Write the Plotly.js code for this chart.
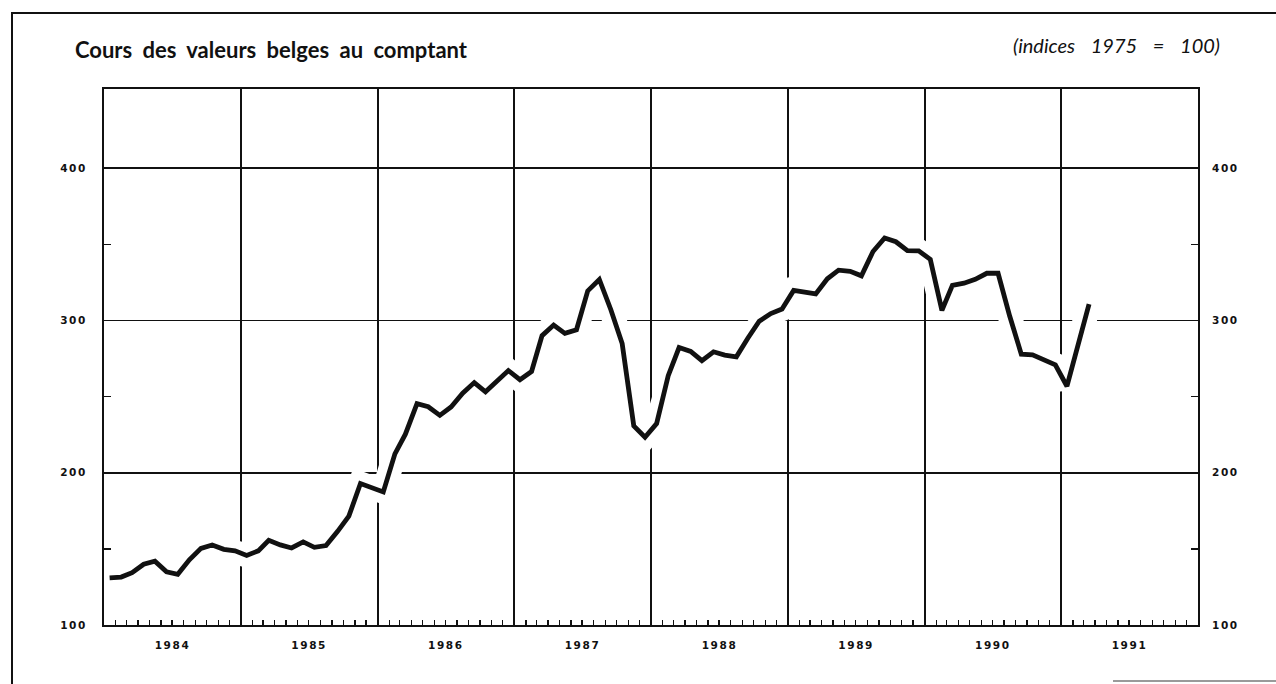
<!DOCTYPE html>
<html>
<head>
<meta charset="utf-8">
<script src="https://cdn.plot.ly/plotly-3.0.1.min.js"></script>
<style>
html,body{margin:0;padding:0;background:#fff;}
#wrap{position:relative;width:1276px;height:684px;overflow:hidden;background:#fff;}
#chart{position:absolute;left:0;top:0;width:1276px;height:684px;}
.frame{position:absolute;pointer-events:none;}
#frameL{left:11px;top:12px;width:2px;height:672px;background:#111;}
#frameT{left:11px;top:12px;width:1265px;height:2px;background:#111;}
#frameB{left:1113px;top:680px;width:163px;height:2px;background:#9a9a9a;}
.x2tick text,.ytick text,.y2tick text{letter-spacing:1.6px;}
.gtitle{word-spacing:5px;}
.annotation-text{word-spacing:11px;}
</style>
</head>
<body>
<div id="wrap">
  <div id="chart"></div>
  <div id="frameL" class="frame"></div>
  <div id="frameT" class="frame"></div>
  <div id="frameB" class="frame"></div>
</div>
<script>
// ---- data ----
const startYear = 1984;
const yearLabels = ['1984', '1985', '1986', '1987', '1988', '1989', '1990', '1991'];
const yTickValues = [100, 200, 300, 400];
const yMinorValues = [150, 250, 350];
// monthly index of Belgian share prices (1975 = 100), Jan 1984 – Mar 1991
const indexValues = [
  131, 131.5, 134.4, 139.9, 141.9, 134.9, 133.3, 142.8, 150.3, 152.5, 149.7, 148.7,
  145.7, 148.7, 155.6, 152.6, 150.6, 154.6, 151, 152.2, 161.5, 171.5, 192.9, 190.4,
  187.4, 212.4, 225.3, 245.3, 243.3, 237.7, 243.2, 252.2, 259.2, 253.1, 260.1, 267.1,
  261.1, 266.5, 290, 297, 291.5, 293.9, 319.4, 326.9, 306.9, 284.8, 230.8, 223.3,
  232.3, 263.7, 282.2, 279.7, 273.6, 279.4, 277.2, 276.1, 288.5, 299.5, 304.5, 307.5,
  319.7, 318.4, 317.4, 327.4, 333, 332.3, 329.3, 345.3, 354.2, 351.7, 345.9, 345.7,
  340.1, 306.6, 323.1, 324.5, 327, 331, 331, 302.9, 277.9, 277.4, 273.7, 270.8,
  256.8, 285.8, 310.8
];

// month positions (middle of each month)
const pad = n => String(n).padStart(2, '0');
const months = indexValues.map((_, i) => `${startYear + Math.floor(i / 12)}-${pad(i % 12 + 1)}-16`);
const yearMid = yearLabels.map(y => `${y}-07-02`);
const xRange = [`${startYear}-01-01`, `${startYear + yearLabels.length}-01-01`];
const yRange = [100, 452];

const ink = '#111111';
const tickFont = {family: 'DejaVu Sans', size: 10.5, color: ink, weight: 700};

const traces = [
  { // white halo that interrupts the grid where the curve crosses it
    x: months, y: indexValues, type: 'scatter', mode: 'lines',
    line: {color: '#ffffff', width: 24, shape: 'linear'},
    hoverinfo: 'skip', showlegend: false
  },
  {
    x: months, y: indexValues, type: 'scatter', mode: 'lines',
    line: {color: ink, width: 4.8, shape: 'linear'},
    name: 'Cours des valeurs belges', showlegend: false
  }
];

const layout = {
  width: 1276, height: 684,
  margin: {l: 104, r: 78, t: 89, b: 59, pad: 0},
  paper_bgcolor: 'rgba(0,0,0,0)', plot_bgcolor: '#ffffff',
  showlegend: false,
  title: {
    text: 'Cours des valeurs belges au comptant',
    font: {family: 'Lato, Open Sans, sans-serif', size: 22, color: ink, weight: 700},
    xref: 'container', x: 75 / 1276, xanchor: 'left',
    yref: 'container', y: 1 - 50 / 684, yanchor: 'middle'
  },
  xaxis: {
    type: 'date', range: xRange, fixedrange: true,
    tickmode: 'linear', tick0: xRange[0], dtick: 'M12',
    showticklabels: false, ticks: '',
    showgrid: true, gridcolor: ink, gridwidth: 1.8,
    showline: true, mirror: true, linecolor: ink, linewidth: 2,
    minor: {tickmode: 'linear', tick0: xRange[0], dtick: 'M1', ticks: 'inside',
            ticklen: 5, tickwidth: 1.3, tickcolor: ink, showgrid: false},
    zeroline: false
  },
  xaxis2: {
    type: 'date', range: xRange, overlaying: 'x', side: 'bottom', fixedrange: true,
    tickmode: 'array', tickvals: yearMid, ticktext: yearLabels,
    ticks: '', showgrid: false, showline: false, zeroline: false,
    tickfont: tickFont, ticklabelstandoff: 12
  },
  yaxis: {
    range: yRange, fixedrange: true,
    tickmode: 'array', tickvals: yTickValues, ticktext: yTickValues.map(String),
    ticks: '', tickfont: tickFont, ticklabelstandoff: 13,
    showgrid: true, gridcolor: ink, gridwidth: 1.8,
    showline: true, mirror: true, linecolor: ink, linewidth: 2,
    minor: {tickmode: 'array', tickvals: yMinorValues, ticks: 'inside',
            ticklen: 7, tickwidth: 1.5, tickcolor: ink, showgrid: false},
    zeroline: false
  },
  yaxis2: {
    range: yRange, overlaying: 'y', side: 'right', fixedrange: true,
    tickmode: 'array', tickvals: yTickValues, ticktext: yTickValues.map(String),
    ticks: '', tickfont: tickFont, ticklabelstandoff: 13,
    showgrid: false, showline: false, zeroline: false,
    minor: {tickmode: 'array', tickvals: yMinorValues, ticks: 'inside',
            ticklen: 7, tickwidth: 1.5, tickcolor: ink, showgrid: false}
  },
  annotations: [{
    text: '(indices 1975 = 100)',
    font: {family: 'Lato, Open Sans, sans-serif', size: 20, color: ink, style: 'italic'},
    xref: 'paper', x: (1222 - 104) / 1094, xanchor: 'right',
    yref: 'paper', y: (625 - 45) / 536, yanchor: 'middle',
    showarrow: false
  }]
};

// helper trace so that the secondary axes are rendered
traces.push({x: [months[0]], y: [null], xaxis: 'x2', yaxis: 'y2', type: 'scatter', mode: 'lines',
             hoverinfo: 'skip', showlegend: false});

Plotly.newPlot('chart', traces, layout, {displayModeBar: false, staticPlot: true});
</script>
</body>
</html>
